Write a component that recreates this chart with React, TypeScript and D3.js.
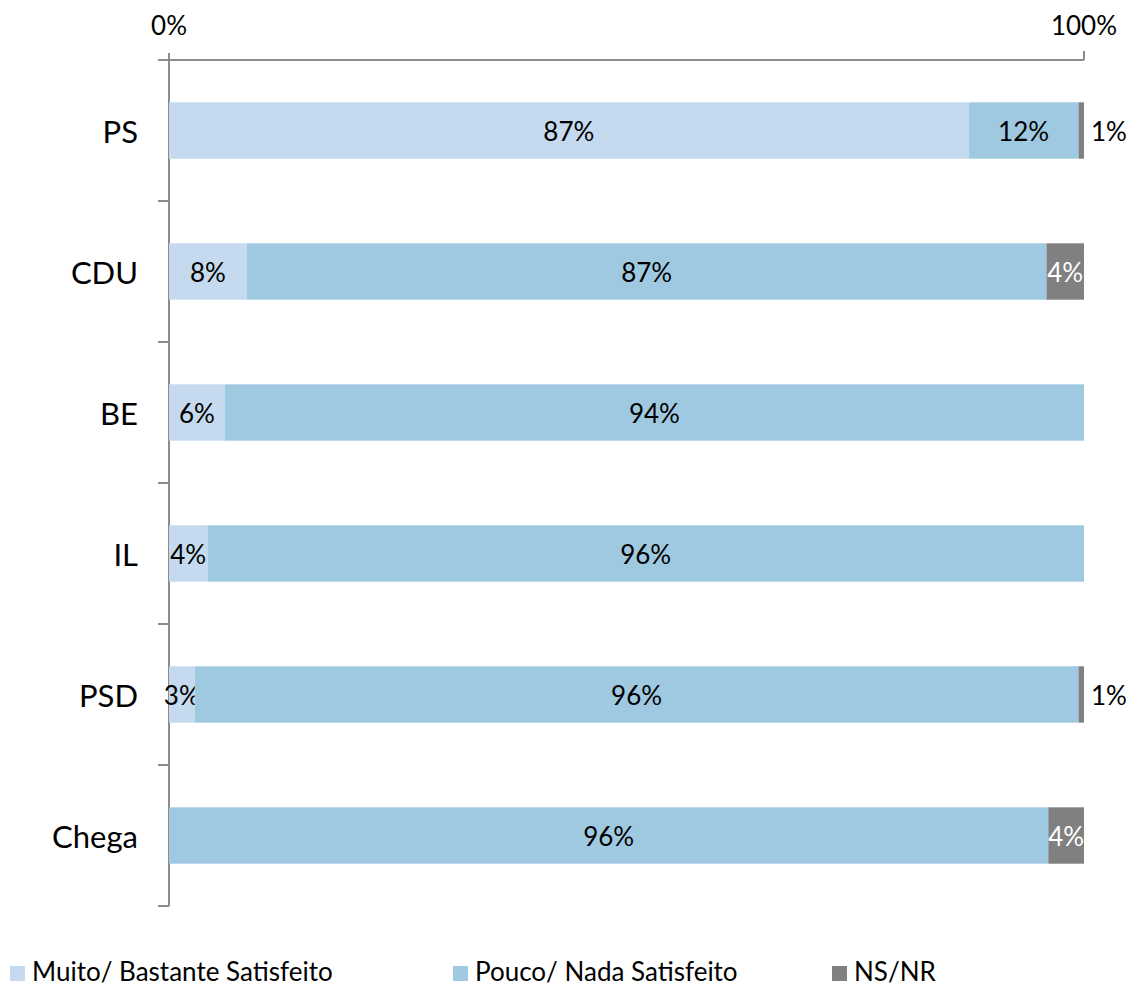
import React from "react";
import * as d3 from "d3";

const categories = ["PS", "CDU", "BE", "IL", "PSD", "Chega"];
const muito = [87.4, 8.5, 6.1, 4.2, 2.8, 0];
const pouco = [12.0, 87.4, 93.9, 95.8, 96.6, 96.1];
const nsnr = [0.6, 4.1, 0, 0, 0.6, 3.9];
const muitoLabels = ["87%", "8%", "6%", "4%", "3%", ""];
const poucoLabels = ["12%", "87%", "94%", "96%", "96%", "96%"];
const nsLabels = ["1%", "4%", "", "", "1%", "4%"];
const seriesNames = ["Muito/ Bastante Satisfeito", "Pouco/ Nada Satisfeito", "NS/NR"];
const xTicks = [0, 100];

const colors = ["#C5DAEE", "#9FC9E0", "#808080"];
const FONT = "Lato, 'Open Sans', sans-serif";

export default function App() {
  const W = 1137, H = 987;
  const x = d3.scaleLinear().domain([0, 100]).range([169, 1084]);
  const y = d3.scaleBand().domain(categories).range([60, 906]).paddingInner(0.6).paddingOuter(0.3);
  const axisColor = "#8C8C8C";
  const step = y.step();
  const data = categories.map((c, i) => [muito[i], pouco[i], nsnr[i]]);
  const labels = categories.map((c, i) => [muitoLabels[i], poucoLabels[i], nsLabels[i]]);
  const legendX = [10, 453, 832];

  return (
    <svg width={W} height={H} style={{ display: "block", position: "absolute", left: 0, top: 0 }} fontFamily={FONT}>
      {/* top axis */}
      <line x1={158} x2={x(100)} y1={60} y2={60} stroke={axisColor} strokeWidth={2} />
      <line x1={x(100)} x2={x(100)} y1={51} y2={60} stroke={axisColor} strokeWidth={2} />
      {xTicks.map((t) => (
        <text key={t} x={x(t)} y={35} textAnchor="middle" fontSize={26} fill="#000">{t}%</text>
      ))}
      {/* left axis */}
      <line x1={x(0)} x2={x(0)} y1={53} y2={906} stroke={axisColor} strokeWidth={2} />
      {d3.range(categories.length + 1).map((i) => (
        <line key={i} x1={158} x2={x(0)} y1={60 + i * step} y2={60 + i * step} stroke={axisColor} strokeWidth={2} />
      ))}
      {categories.map((c, i) => {
        const y0 = y(c)!;
        const bh = y.bandwidth();
        let acc = 0;
        return (
          <g key={c}>
            <text x={138} y={y0 + bh / 2} textAnchor="end" dominantBaseline="central" fontSize={31} fill="#000">{c}</text>
            {data[i].map((v, j) => {
              const x0 = x(acc);
              acc += v;
              const x1 = x(acc);
              if (v <= 0) return null;
              const lab = labels[i][j];
              const w = x1 - x0;
              const outside = w < 15 && lab;
              return (
                <g key={j}>
                  <rect x={x0} y={y0} width={w} height={bh} fill={colors[j]} />
                  {lab && (
                    <text
                      x={outside ? x1 + 7 : (x0 + x1) / 2}
                      y={y0 + bh / 2}
                      textAnchor={outside ? "start" : "middle"}
                      dominantBaseline="central"
                      fontSize={26}
                      fill={j === 2 && !outside ? "#fff" : "#000"}
                    >{lab}</text>
                  )}
                </g>
              );
            })}
          </g>
        );
      })}
      {/* legend */}
      {seriesNames.map((s, i) => (
        <g key={s}>
          <rect x={legendX[i]} y={966} width={15} height={15} fill={colors[i]} />
          <text x={legendX[i] + 22} y={981} fontSize={26} fill="#000">{s}</text>
        </g>
      ))}
    </svg>
  );
}
